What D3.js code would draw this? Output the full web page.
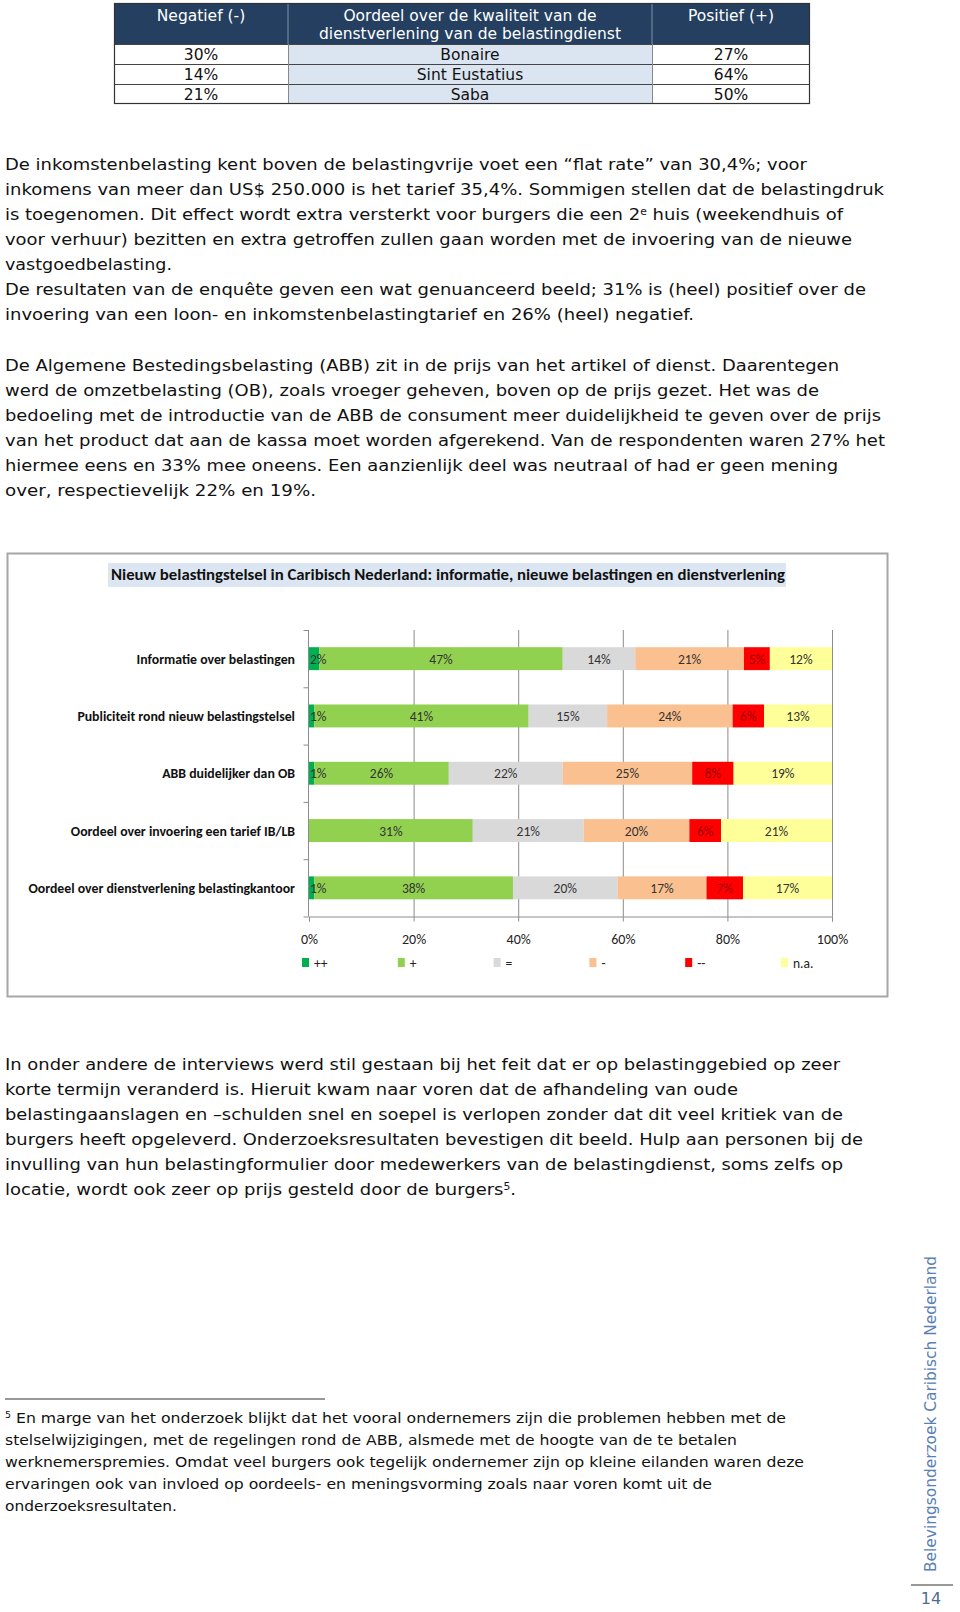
<!DOCTYPE html>
<html><head><meta charset="utf-8">
<script src="https://cdn.jsdelivr.net/npm/d3@7"></script>
<style>body{margin:0;background:#fff}svg{display:block}</style>
</head><body><svg id="page" width="960" height="1612"></svg>
<script>
// ---------- DATA ----------
const tableHeaders = ["Negatief (-)", "Oordeel over de kwaliteit van de|dienstverlening van de belastingdienst", "Positief (+)"];
const tableIslands = ["Bonaire", "Sint Eustatius", "Saba"];
const tableNeg = ["30%", "14%", "21%"];
const tablePos = ["27%", "64%", "50%"];

const chartTitle = "Nieuw belastingstelsel in Caribisch Nederland: informatie, nieuwe belastingen en dienstverlening";
const categories = ["Informatie over belastingen", "Publiciteit rond nieuw belastingstelsel", "ABB duidelijker dan OB", "Oordeel over invoering een tarief IB/LB", "Oordeel over dienstverlening belastingkantoor"];
const seriesNames = ["++", "+", "=", "-", "--", "n.a."];
const valVeryPos = [2, 1, 1, 0, 1];
const valPos = [47, 41, 26, 31, 38];
const valNeutral = [14, 15, 22, 21, 20];
const valNeg = [21, 24, 25, 20, 17];
const valVeryNeg = [5, 6, 8, 6, 7];
const valNA = [12, 13, 19, 21, 17];
const xTickValues = [0, 20, 40, 60, 80, 100];

const para1 = [
 "De inkomstenbelasting kent boven de belastingvrije voet een \u201cflat rate\u201d van 30,4%; voor",
 "inkomens van meer dan US$ 250.000 is het tarief 35,4%. Sommigen stellen dat de belastingdruk",
 "is toegenomen. Dit effect wordt extra versterkt voor burgers die een 2^e^ huis (weekendhuis of",
 "voor verhuur) bezitten en extra getroffen zullen gaan worden met de invoering van de nieuwe",
 "vastgoedbelasting.",
 "De resultaten van de enqu\u00eate geven een wat genuanceerd beeld; 31% is (heel) positief over de",
 "invoering van een loon- en inkomstenbelastingtarief en 26% (heel) negatief."];
const para2 = [
 "De Algemene Bestedingsbelasting (ABB) zit in de prijs van het artikel of dienst. Daarentegen",
 "werd de omzetbelasting (OB), zoals vroeger geheven, boven op de prijs gezet. Het was de",
 "bedoeling met de introductie van de ABB de consument meer duidelijkheid te geven over de prijs",
 "van het product dat aan de kassa moet worden afgerekend. Van de respondenten waren 27% het",
 "hiermee eens en 33% mee oneens. Een aanzienlijk deel was neutraal of had er geen mening",
 "over, respectievelijk 22% en 19%."];
const para3 = [
 "In onder andere de interviews werd stil gestaan bij het feit dat er op belastinggebied op zeer",
 "korte termijn veranderd is. Hieruit kwam naar voren dat de afhandeling van oude",
 "belastingaanslagen en \u2013schulden snel en soepel is verlopen zonder dat dit veel kritiek van de",
 "burgers heeft opgeleverd. Onderzoeksresultaten bevestigen dit beeld. Hulp aan personen bij de",
 "invulling van hun belastingformulier door medewerkers van de belastingdienst, soms zelfs op",
 "locatie, wordt ook zeer op prijs gesteld door de burgers^5^."];
const footnote = [
 "^5^ En marge van het onderzoek blijkt dat het vooral ondernemers zijn die problemen hebben met de",
 "stelselwijzigingen, met de regelingen rond de ABB, alsmede met de hoogte van de te betalen",
 "werknemerspremies. Omdat veel burgers ook tegelijk ondernemer zijn op kleine eilanden waren deze",
 "ervaringen ook van invloed op oordeels- en meningsvorming zoals naar voren komt uit de",
 "onderzoeksresultaten."];
const sideText = "Belevingsonderzoek Caribisch Nederland";
const pageNumber = "14";

// ---------- LAYOUT ----------
const svg = d3.select("#page");
svg.append("rect").attr("width", 960).attr("height", 1612).attr("fill", "#fff");
const bodyFont = "'DejaVu Sans', Verdana, sans-serif";
const chartFont = "Carlito, Lato, 'Open Sans', sans-serif";

// target line ends for text fitting
const para1Ends = [807, 884, 843, 852, 172, 866, 694];
const para2Ends = [839, 819, 881, 885, 838, 316];
const para3Ends = [840, 738, 843, 863, 843, 516];
const footEnds = [786, 737, 804, 712, 177];

function drawLines(lines, ends, x0, y0, step, size) {
  const g = svg.append("g").attr("font-family", bodyFont).attr("font-size", size).attr("fill", "#111");
  lines.forEach((ln, i) => {
    const t = g.append("text").attr("x", x0).attr("y", y0 + i * step)
      .attr("textLength", ends[i] - x0).attr("lengthAdjust", "spacingAndGlyphs");
    ln.split(/(\^[^^]*\^)/).forEach(part => {
      if (!part) return;
      if (part.startsWith("^")) {
        t.append("tspan").attr("baseline-shift", "super").attr("font-size", size * 0.6).text(part.slice(1, -1));
      } else t.append("tspan").text(part);
    });
  });
}
drawLines(para1, para1Ends, 5, 170, 24.95, 16);
drawLines(para2, para2Ends, 5, 371, 24.95, 16);
drawLines(para3, para3Ends, 5, 1070, 24.95, 16);
drawLines(footnote, footEnds, 5, 1423, 21.9, 14);

// footnote separator
svg.append("line").attr("x1", 5).attr("x2", 325).attr("y1", 1399).attr("y2", 1399).attr("stroke", "#333").attr("stroke-width", 1);

// ---------- TABLE ----------
const tX = [114, 288, 652, 810];
const tY = [3, 44, 64, 84, 104];
const tg = svg.append("g").attr("font-family", bodyFont).attr("font-size", 15.5);
tg.append("rect").attr("x", tX[0]).attr("y", tY[0]).attr("width", tX[3] - tX[0]).attr("height", tY[1] - tY[0]).attr("fill", "#243f60");
for (let r = 0; r < 3; r++) {
  tg.append("rect").attr("x", tX[1]).attr("y", tY[r + 1]).attr("width", tX[2] - tX[1]).attr("height", tY[r + 2] - tY[r + 1]).attr("fill", "#dbe5f1");
}
[0, 1, 2].forEach(c => {
  const cx = (tX[c] + tX[c + 1]) / 2;
  const parts = tableHeaders[c].split("|");
  parts.forEach((p, j) => {
    tg.append("text").attr("x", cx).attr("y", 20.5 + j * 18.5).attr("text-anchor", "middle").attr("fill", "#fff").text(p);
  });
});
const rowsData = tableIslands.map((d, i) => [tableNeg[i], d, tablePos[i]]);
rowsData.forEach((row, r) => {
  row.forEach((v, c) => {
    tg.append("text").attr("x", (tX[c] + tX[c + 1]) / 2).attr("y", (tY[r + 1] + tY[r + 2]) / 2 + 5.5)
      .attr("text-anchor", "middle").attr("fill", "#111").text(v);
  });
});
tg.append("line").attr("x1", tX[1]).attr("x2", tX[1]).attr("y1", tY[0]).attr("y2", tY[1]).attr("stroke", "#7f93aa").attr("stroke-width", 1);
tg.append("line").attr("x1", tX[2]).attr("x2", tX[2]).attr("y1", tY[0]).attr("y2", tY[1]).attr("stroke", "#7f93aa").attr("stroke-width", 1);
for (let r = 1; r < 4; r++) tg.append("line").attr("x1", tX[0]).attr("x2", tX[3]).attr("y1", tY[r] + 0.5).attr("y2", tY[r] + 0.5).attr("stroke", "#444");
[1, 2].forEach(c => tg.append("line").attr("x1", tX[c] + 0.5).attr("x2", tX[c] + 0.5).attr("y1", tY[1]).attr("y2", tY[4]).attr("stroke", "#888"));
tg.append("rect").attr("x", tX[0] + 0.5).attr("y", tY[0] + 0.5).attr("width", tX[3] - tX[0] - 1).attr("height", tY[4] - tY[0] - 1).attr("fill", "none").attr("stroke", "#333").attr("stroke-width", 1.2);

// ---------- CHART ----------
const cg = svg.append("g").attr("font-family", chartFont);
cg.append("rect").attr("x", 7.5).attr("y", 553.5).attr("width", 880).attr("height", 443).attr("fill", "#fff").attr("stroke", "#a6a6a6").attr("stroke-width", 2);
cg.append("rect").attr("x", 108).attr("y", 563).attr("width", 678).attr("height", 24).attr("fill", "#dce6f2");
cg.append("text").attr("x", 111).attr("y", 580).attr("font-size", 15).attr("font-weight", "bold").attr("fill", "#111")
  .attr("textLength", 674).attr("lengthAdjust", "spacingAndGlyphs").text(chartTitle);

const x = d3.scaleLinear().domain([0, 100]).range([309, 832]);
const y = d3.scaleBand().domain(categories).range([630, 916.5]).paddingInner(0.6).paddingOuter(0.3);

const seriesVals = [valVeryPos, valPos, valNeutral, valNeg, valVeryNeg, valNA];
const colors = ["#00b050", "#92d050", "#d9d9d9", "#fac090", "#ff0000", "#ffff99"];
const rows = categories.map((c, i) => {
  const o = { cat: c };
  seriesNames.forEach((s, k) => o[s] = seriesVals[k][i]);
  return o;
});
const stack = d3.stack().keys(seriesNames).offset(d3.stackOffsetExpand);
const stacked = stack(rows);

const xAxis = d3.axisBottom(x).tickValues(xTickValues).tickFormat(d => d + "%").tickSize(5).tickPadding(13);
const gx = cg.append("g").attr("transform", "translate(0,916.5)").call(xAxis);
gx.select(".domain").attr("stroke", "#8c8c8c");
gx.selectAll(".tick line").attr("stroke", "#8c8c8c");
gx.selectAll(".tick text").attr("font-size", 14).attr("fill", "#222").attr("font-family", chartFont);
const grid = cg.append("g");
grid.selectAll("line").data(xTickValues.slice(1)).join("line")
  .attr("x1", d => x(d) + 0.5).attr("x2", d => x(d) + 0.5).attr("y1", 630).attr("y2", 916.5)
  .attr("stroke", "#8c8c8c").attr("stroke-width", 1);

const barsG = cg.append("g");
stacked.forEach((layer, k) => {
  barsG.append("g").attr("fill", colors[k]).selectAll("rect").data(layer).join("rect")
    .attr("x", d => x(d[0] * 100)).attr("width", d => x(d[1] * 100) - x(d[0] * 100))
    .attr("y", (d, i) => y(categories[i])).attr("height", y.bandwidth());
});
const labG = cg.append("g").attr("font-size", 13.5);
stacked.forEach((layer, k) => {
  layer.forEach((d, i) => {
    const v = seriesVals[k][i];
    if (!v) return;
    const x0 = x(d[0] * 100), x1 = x(d[1] * 100);
    const t = labG.append("text").attr("y", y(categories[i]) + y.bandwidth() / 2 + 5)
      .attr("fill", k === 4 ? "#9c0006" : "#333").text(v + "%");
    if (k === 0) t.attr("x", x0 + 1).attr("text-anchor", "start");
    else t.attr("x", (x0 + x1) / 2).attr("text-anchor", "middle");
  });
});

const yAxisLine = cg.append("g");
yAxisLine.append("line").attr("x1", 308.5).attr("x2", 308.5).attr("y1", 630).attr("y2", 916.5).attr("stroke", "#8c8c8c");
const bounds = d3.range(categories.length + 1).map(i => 630 + i * y.step());
yAxisLine.selectAll(".yt").data(bounds).join("line").attr("class", "yt")
  .attr("x1", 303.5).attr("x2", 308.5).attr("y1", d => d + 0.5).attr("y2", d => d + 0.5).attr("stroke", "#8c8c8c");
cg.append("g").attr("font-size", 13.8).attr("font-weight", "bold").attr("fill", "#111")
  .selectAll("text").data(categories).join("text")
  .attr("x", 295).attr("y", d => y(d) + y.bandwidth() / 2 + 5).attr("text-anchor", "end").text(d => d);

const lg = cg.append("g").attr("font-size", 13.5).attr("fill", "#222");
seriesNames.forEach((s, k) => {
  const lx = 302 + k * 95.8;
  lg.append("rect").attr("x", lx).attr("y", 958).attr("width", 7).attr("height", 9).attr("fill", colors[k]);
  lg.append("text").attr("x", lx + 12).attr("y", 967.5).text(s);
});

// ---------- SIDE ----------
svg.append("text").attr("transform", "translate(936,1414) rotate(-90)").attr("text-anchor", "middle")
  .attr("font-family", bodyFont).attr("font-size", 15).attr("fill", "#5b80b4")
  .attr("textLength", 316).attr("lengthAdjust", "spacingAndGlyphs").text(sideText);
svg.append("line").attr("x1", 911).attr("x2", 953).attr("y1", 1585).attr("y2", 1585).attr("stroke", "#333").attr("stroke-width", 1);
svg.append("text").attr("x", 931).attr("y", 1604).attr("text-anchor", "middle").attr("font-family", bodyFont)
  .attr("font-size", 16).attr("fill", "#4f6d8f").text(pageNumber);
</script></body></html>
